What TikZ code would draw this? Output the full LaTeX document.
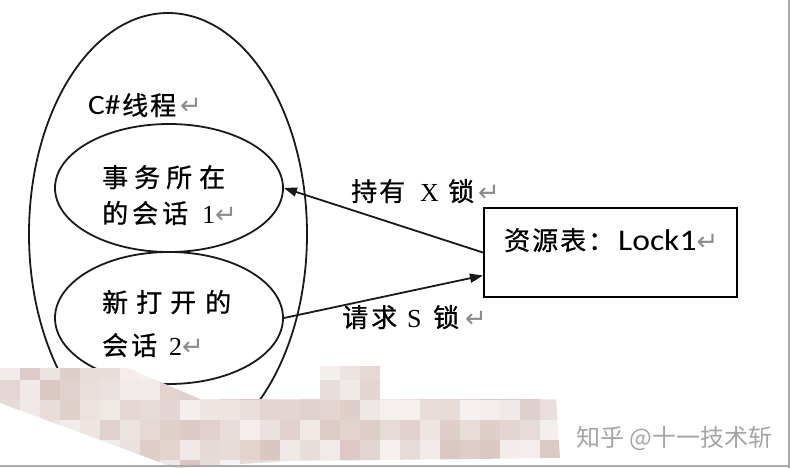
\documentclass[tikz,border=0pt]{standalone}
\usepackage{fontspec}
\setmainfont{Liberation Serif}
\newfontfamily\cjk[FakeBold=0.8]{Noto Sans CJK SC}
\newfontfamily\wmfont{Noto Sans CJK SC}
\newfontfamily\calfont[FakeStretch=1.12]{Carlito}
\newfontfamily\symfont{DejaVu Sans}
\usetikzlibrary{shapes.geometric,arrows.meta}
\definecolor{retgray}{RGB}{140,140,140}
\definecolor{wmgray}{RGB}{165,165,165}
\definecolor{moz}{RGB}{178,138,128}
\definecolor{linec}{RGB}{25,25,25}
\definecolor{bordc}{RGB}{170,170,170}
\newcommand{\ret}{{\symfont\fontsize{26}{26}\selectfont\color{retgray}↵}}
\newcommand{\cb}[2]{\makebox[#1pt][l]{#2}}
\tikzset{
  oval/.style={draw=linec, line width=1.8pt, ellipse, inner sep=0pt},
  txt/.style={anchor=base west, inner sep=0pt, font=\cjk\fontsize{26}{30}\selectfont},
  conn/.style={draw=linec, line width=1.8pt, -{Triangle[length=13pt,width=9pt]}},
}
\begin{document}
\begin{tikzpicture}[x=1pt,y=-1pt]
\useasboundingbox (0,0) rectangle (790,468);
% ellipses
\node[oval, minimum width=278pt, minimum height=442pt] (thread) at (168,234) {};
\node[oval, minimum width=228pt, minimum height=128pt] (s1) at (169,188) {};
\node[oval, minimum width=228pt, minimum height=132pt] (s2) at (169,318) {};
% resource box
\node[draw=black, line width=2.2pt, minimum width=253pt, minimum height=89pt, inner sep=0pt] (res) at (610.5,252.5) {};
% connectors
\draw[conn] (res.west) -- (s1.east);
\draw[conn] (s2.east) -- ([yshift=-23pt]res.west);
% texts
\node[txt] (tthread) at (88,115) {\cb{34}{\calfont\fontsize{28}{30}\selectfont C\#}\cb{28}{线}\cb{30}{程}\ret};
\node[txt] (t1a) at (102,187) {\cb{32}{事}\cb{32}{务}\cb{33}{所}在};
\node[txt] (t1b) at (102,223) {\cb{30}{的}\cb{30}{会}\cb{40}{话}{\rmfamily 1}\ret};
\node[txt] (t2a) at (102,312) {\cb{34}{新}\cb{34}{打}\cb{35}{开}的};
\node[txt] (t2b) at (102,355) {\cb{29}{会}\cb{38}{话}{\rmfamily 2}\ret};
\node[txt] (lx) at (351,201) {\cb{28}{持}\cb{41}{有}\cb{28}{\rmfamily X}\cb{30}{锁}\ret};
\node[txt] (ls) at (342,327) {\cb{29}{请}\cb{36}{求}\cb{26}{\rmfamily S}\cb{32}{锁}\ret};
\node[txt] (tres) at (504,250) {\cb{28}{资}\cb{28}{源}\cb{28}{表}\cb{30}{：}{\calfont\fontsize{30}{30}\selectfont Lock1}\ret};
% mosaic
\begin{scope}
\clip (0,368) -- (128,368) -- (200,399) -- (320,399) -- (320,366) -- (380,366) -- (380,399) -- (556,399) -- (560,458) -- (290,461) -- (175,468) -- (0,403) -- cycle;
\pgfmathsetseed{11}
\foreach \i in {0,...,27}{
  \foreach \j in {0,...,5}{
    \pgfmathrandominteger{\p}{12}{48}
    \fill[moz!\p!white] (\i*20,360+\j*20) rectangle ++(20,20);
  }
}
\end{scope}
% watermark
\node[anchor=base west, inner sep=0pt, font=\wmfont\fontsize{24}{24}\selectfont, text=wmgray] (wm) at (576,446) {知乎 @十一技术斩};
% frame edges
\draw[bordc, line width=2pt] (0,466) -- (790,466);
\draw[bordc, line width=2pt] (789,0) -- (789,468);
\end{tikzpicture}
\end{document}
